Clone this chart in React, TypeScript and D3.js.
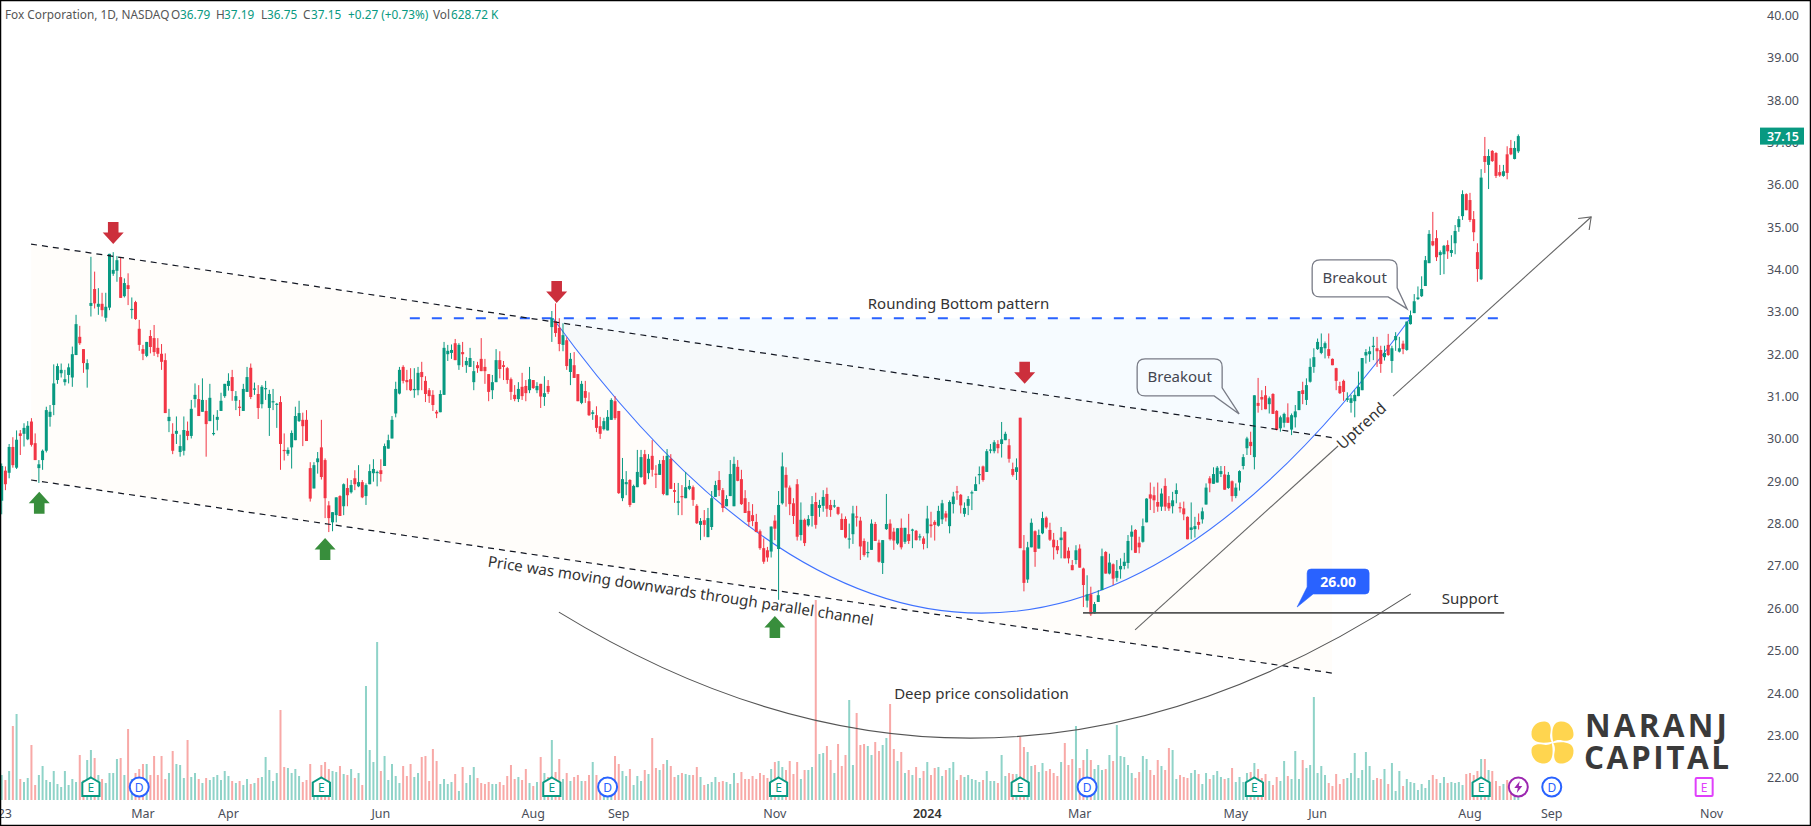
import * as d3 from 'd3';

type Ohlc = [number, number, number, number];

// daily candles [open, high, low, close], split by the axis months
const candlesJanFeb23: Ohlc[] = [
  [28.54,29.42,28.22,29.36],[29.25,29.35,28.79,28.93],[29.2,29.88,29.07,29.81],[29.81,30.04,29.32,29.38],[29.32,30.2,29.29,29.98],[30.13,30.21,29.62,30.07],[30.12,30.37,29.82,30.26],[29.99,30.42,29.97,30.31],[30.41,30.49,29.82,29.86],[29.9,30.13,29.5,29.5],
  [29.31,29.5,28.96,29.4],[29.5,29.75,29.27,29.72],[29.72,30.76,29.68,30.68],[30.52,30.8,30.29,30.64],[30.8,31.76,30.56,31.31],[31.39,31.78,31.3,31.72],[31.55,31.78,31.45,31.63],[31.34,31.63,31.26,31.41],[31.51,31.78,31.31,31.69],[31.45,32.18,31.23,32.0],
  [31.98,32.93,31.98,32.71],[32.41,32.67,32.22,32.26],[32.12,32.12,31.56,31.79],[31.64,31.88,31.21,31.79],[33.14,34.3,32.89,33.21],[33.54,33.95,33.08,33.2],[33.12,33.56,32.93,33.19],[33.19,33.45,32.89,33.04],[32.86,33.45,32.77,33.12],[33.1,34.37,33.04,34.37],
  [33.9,34.41,33.85,33.99],[33.97,34.32,33.71,34.22],[33.82,34.28,33.33,33.33],[33.37,33.79,33.34,33.68],[33.63,33.91,33.16,33.54],[33.05,33.34,32.84,33.07],[33.23,33.26,32.81,32.83],[32.6,32.81,32.08,32.22],
];
const candlesMar23: Ohlc[] = [
  [32.12,32.22,31.86,32.01],[31.96,32.29,31.93,32.29],[32.43,32.57,32.02,32.17],[32.38,32.69,31.96,32.05],[32.15,32.38,31.93,32.01],[32.01,32.24,31.63,31.82],[31.86,32.02,30.61,30.61],[30.42,30.71,30.16,30.52],[30.12,30.37,29.64,29.72],[30.12,30.53,29.88,30.19],
  [29.69,30.1,29.58,29.83],[29.72,30.53,29.61,30.21],[30.19,30.41,29.97,30.07],[30.07,30.92,30.01,30.71],[30.94,31.31,30.74,31.04],[30.94,31.27,30.54,30.54],[30.64,31.43,30.64,30.92],[30.66,30.92,29.58,30.35],[30.42,31.3,30.42,30.97],[30.12,30.57,30.08,30.14],
  [30.45,30.68,30.2,30.52],[30.66,31.09,30.66,30.9],[31.01,31.3,30.97,31.3],
];
const candlesAprMay23: Ohlc[] = [
  [31.25,31.55,31.14,31.37],[31.46,31.63,30.9,31.13],[30.9,31.13,30.68,31.01],[30.76,30.92,30.54,30.74],[30.66,31.3,30.66,31.18],[31.11,31.7,31.11,31.46],[31.68,31.78,30.94,30.99],[31.17,31.33,31.04,31.19],[31.06,31.27,30.47,30.73],[30.82,31.27,30.72,31.23],
  [31.18,31.37,30.92,31.2],[30.73,31.16,30.07,31.06],[30.87,31.18,30.68,30.89],[30.81,30.85,30.26,30.83],[30.87,31.01,29.27,29.88],[29.74,30.13,29.49,29.72],[29.65,29.8,29.6,29.74],[29.8,30.2,29.3,30.14],[29.97,30.76,29.97,30.54],[30.42,30.9,30.4,30.61],
  [30.45,30.62,29.83,30.3],[30.45,30.68,29.95,29.95],[29.31,29.45,28.52,28.59],[28.83,29.45,28.83,29.38],[29.45,29.69,29.18,29.54],[29.8,30.45,29.04,29.1],[29.5,29.54,28.13,28.6],[28.43,28.53,27.8,28.13],[28.03,28.27,27.82,28.27],[28.2,28.62,28.03,28.62],
  [28.65,28.67,28.18,28.18],[28.41,28.95,28.2,28.93],[28.84,29.07,28.41,28.67],[28.74,29.03,28.71,28.91],[29.07,29.26,28.79,28.93],[28.88,29.38,28.86,28.98],[28.98,29.03,28.6,28.62],[28.65,28.95,28.44,28.91],[28.93,29.4,28.93,29.24],[29.19,29.52,28.99,29.29],
  [29.2,29.25,28.88,29.22],
];
const candlesJunJul23: Ohlc[] = [
  [29.26,29.52,28.99,29.17],[29.36,29.89,29.36,29.83],[29.77,30.1,29.77,29.97],[30.01,30.54,30.01,30.45],[30.6,31.35,30.51,31.18],[31.07,31.7,31.05,31.63],[31.7,31.74,31.31,31.37],[31.39,31.63,31.15,31.34],[31.41,31.67,31.13,31.15],[31.15,31.67,30.97,31.18],
  [31.15,31.7,31.03,31.56],[31.58,31.82,31.15,31.46],[31.37,31.48,30.87,31.06],[31.15,31.2,30.85,31.01],[31.04,31.15,30.66,30.8],[30.64,30.68,30.49,30.6],[30.63,31.15,30.63,31.06],[31.04,32.29,31.04,32.15],[32.0,32.22,31.84,32.08],[32.03,32.23,31.89,32.1],
  [32.26,32.36,31.86,31.86],[31.74,32.26,31.63,32.22],[32.05,32.29,31.7,32.0],[31.74,31.93,31.56,31.84],[31.7,32.15,31.7,31.91],[31.34,31.84,31.15,31.6],[31.74,31.82,31.56,31.67],[31.89,32.38,31.6,31.6],[31.7,31.89,31.3,31.6],[31.53,31.53,30.89,31.11],
  [31.15,31.51,30.94,31.34],[31.34,32.12,31.34,31.86],[31.86,32.07,31.43,31.65],[31.74,31.84,31.39,31.7],[31.67,31.7,31.3,31.39],[31.41,31.45,30.92,31.11],[31.04,31.27,30.89,30.94],[30.94,31.34,30.87,31.18],[31.23,31.56,30.92,31.01],[31.25,31.39,30.89,31.08],
  [31.15,31.7,31.08,31.41],
];
const candlesAug23: Ohlc[] = [
  [31.39,31.39,31.18,31.2],[31.15,31.34,31.08,31.25],[31.3,31.3,30.73,31.0],[30.99,31.48,30.78,31.08],[31.25,31.39,31.06,31.11],[32.64,33.02,32.29,32.85],[32.78,33.2,32.41,32.5],[32.62,32.85,32.07,32.24],[32.22,32.73,32.07,32.45],[32.33,32.4,31.63,31.72],
  [31.58,32.03,31.27,31.89],[31.74,32.05,31.44,31.44],[31.53,31.53,30.89,30.89],[30.85,31.37,30.82,31.3],[31.13,31.37,30.85,30.97],[30.89,31.1,30.54,30.56],[30.59,30.68,30.45,30.63],[30.56,30.77,30.16,30.26],[30.3,30.52,30.0,30.12],[30.23,30.5,30.2,30.42],
  [30.2,30.68,30.2,30.52],[30.45,30.96,30.45,30.92],[30.89,31.01,30.45,30.49],
];
const candlesSepOct23: Ohlc[] = [
  [30.66,30.66,28.7,28.72],[28.6,29.55,28.53,29.05],[28.93,29.24,28.67,28.98],[29.03,29.05,28.39,28.44],[28.49,28.92,28.49,28.89],[28.86,29.74,28.86,29.22],[29.1,29.74,29.08,29.57],[29.64,29.74,28.91,28.93],[29.19,29.64,29.05,29.53],[29.6,29.97,29.11,29.27],
  [29.18,29.38,28.84,29.16],[29.15,29.5,29.15,29.41],[29.5,29.6,28.67,28.7],[28.67,29.76,28.67,29.6],[29.53,29.64,28.82,28.82],[28.79,28.96,28.49,28.75],[28.49,28.96,28.2,28.53],[28.65,28.91,28.2,28.63],[28.6,29.22,28.6,28.86],[28.82,29.03,28.79,28.89],
  [28.86,28.9,28.42,28.56],[28.42,28.46,27.99,28.01],[27.97,28.13,27.61,28.06],[28.08,28.32,27.69,27.97],[27.68,28.37,27.68,28.13],[27.92,28.77,27.85,28.6],[28.63,29.01,28.63,28.91],[29.03,29.24,28.65,28.79],[28.79,28.84,28.27,28.37],[28.41,28.67,28.41,28.58],
  [28.65,29.5,28.65,29.17],[28.41,29.58,28.41,29.41],[29.34,29.5,29.0,29.01],[29.05,29.27,28.44,28.46],[28.6,28.79,28.25,28.25],[28.3,28.51,27.93,28.04],[28.2,28.46,27.94,28.06],[28.04,28.23,27.8,27.8],[27.82,27.86,27.38,27.42],[27.42,27.65,27.05,27.1],
  [27.37,27.45,27.1,27.2],[27.34,27.93,27.2,27.93],
];
const candlesNovDec23: Ohlc[] = [
  [28.07,28.2,27.61,27.88],[27.4,28.77,26.2,28.44],[28.48,29.68,28.45,29.35],[29.15,29.33,28.4,28.85],[28.85,28.9,28.2,28.46],[28.48,28.6,27.99,28.18],[28.93,29.05,27.6,27.69],[27.73,28.5,27.6,28.09],[28.09,28.12,27.47,27.54],[27.96,28.2,27.93,28.11],
  [28.18,28.65,27.93,28.46],[28.51,28.73,27.88,27.97],[28.37,28.56,28.16,28.44],[28.42,28.79,28.28,28.63],[28.7,28.85,28.16,28.35],[28.44,28.56,28.16,28.32],[28.41,28.56,28.37,28.43],[28.39,28.4,28.2,28.23],[28.11,28.24,27.85,27.85],[28.11,28.17,27.65,27.67],
  [27.63,28.0,27.41,27.65],[27.75,28.42,27.52,28.24],[28.17,28.42,27.93,28.15],[28.07,28.16,27.14,27.46],[27.59,27.65,27.22,27.26],[27.31,27.57,27.2,27.33],[27.38,28.1,27.38,28.0],[27.99,28.04,27.59,27.59],[27.55,27.62,27.08,27.1],[27.07,27.61,26.81,27.61],
  [27.87,28.7,27.85,27.99],[28.0,28.1,27.6,27.63],[27.81,27.9,27.38,27.6],[27.53,27.89,27.5,27.89],[27.9,28.12,27.39,27.44],[27.57,27.9,27.52,27.9],[27.75,28.23,27.52,27.59],[27.84,27.88,27.42,27.86],[27.83,27.85,27.6,27.61],[27.68,27.76,27.6,27.7],
  [27.65,27.7,27.39,27.52],
];
const candlesJanFeb24: Ohlc[] = [
  [27.77,28.42,27.42,28.12],[27.98,28.28,27.67,27.94],[28.04,28.08,27.6,27.97],[27.95,28.42,27.93,28.3],[28.1,28.56,27.99,28.48],[28.24,28.3,28.05,28.14],[27.94,28.55,27.77,28.51],[28.46,28.75,28.24,28.64],[28.76,28.89,28.56,28.74],[28.68,28.7,28.24,28.43],
  [28.23,28.5,28.16,28.37],[28.42,28.65,28.2,28.58],[28.72,28.78,28.32,28.74],[28.77,29.11,28.77,28.93],[29.15,29.35,28.93,29.17],[29.35,29.37,28.99,29.03],[29.22,29.76,29.22,29.71],[29.73,29.88,29.66,29.75],[29.71,29.97,29.66,29.92],[29.88,29.97,29.66,29.78],
  [29.88,30.4,29.56,29.99],[29.97,30.17,29.97,30.12],[29.85,30.0,29.44,29.53],[29.29,29.44,29.11,29.15],[29.22,29.54,29.03,29.33],[30.5,30.5,27.42,27.42],[27.37,27.73,26.4,26.6],[26.68,27.57,26.6,27.44],[27.44,28.12,27.44,28.02],[27.82,27.84,26.98,27.33],
  [27.41,27.86,27.41,27.73],[27.77,28.28,27.75,28.13],[28.14,28.17,27.88,27.91],[27.85,28.02,27.59,27.62],[27.62,27.78,27.15,27.44],[27.47,27.61,27.28,27.37],[27.61,27.92,27.18,27.67],[27.81,27.81,27.18,27.18],[27.36,27.44,27.06,27.18],[27.02,27.14,26.9,26.9],
  [27.14,27.49,27.04,27.37],
];
const candlesMarApr24: Ohlc[] = [
  [27.41,27.51,26.96,26.96],[26.94,26.96,26.03,26.55],[26.18,26.78,26.02,26.33],[26.33,26.51,25.82,25.86],[25.88,26.15,25.87,26.1],[26.15,26.43,26.15,26.31],[26.43,27.41,26.43,27.23],[27.33,27.35,26.82,26.82],[26.82,27.29,26.8,27.08],[27.04,27.06,26.55,26.7],
  [26.72,27.14,26.63,26.88],[26.92,27.18,26.7,27.0],[27.0,27.31,26.92,27.1],[27.07,27.73,26.94,27.59],[27.69,27.96,27.37,27.81],[27.85,27.87,27.31,27.31],[27.55,27.69,27.3,27.44],[27.57,28.12,27.55,27.94],[28.03,28.6,28.03,28.59],[28.69,28.97,28.32,28.59],
  [28.67,28.87,28.25,28.55],[28.51,28.97,28.28,28.4],[28.4,28.83,28.3,28.71],[28.89,29.07,28.3,28.4],[28.49,28.65,28.3,28.36],[28.41,28.75,28.24,28.55],[28.7,28.95,28.48,28.79],[28.39,28.5,28.26,28.36],[28.36,28.52,28.08,28.22],[28.16,28.17,27.63,27.63],
  [27.85,28.5,27.63,27.91],[27.87,28.16,27.67,27.94],[28.04,28.24,27.86,27.97],[28.1,28.38,28.0,28.29],[28.45,28.95,28.45,28.85],[29.07,29.12,28.74,28.95],[28.94,29.33,28.94,29.17],[28.97,29.36,28.97,29.32],[29.17,29.36,29.1,29.24],[29.16,29.36,28.8,28.8],
  [28.84,29.22,28.82,29.15],[29.0,29.02,28.52,28.65],
];
const candlesMay24: Ohlc[] = [
  [28.65,28.95,28.6,28.85],[28.97,29.26,28.78,29.24],[29.36,29.64,29.28,29.57],[29.78,30.05,29.62,30.01],[29.93,30.17,29.62,29.83],[29.57,31.03,29.28,31.03],[30.85,31.44,30.62,30.78],[30.99,31.15,30.68,30.93],[31.03,31.25,30.7,30.7],[30.82,31.0,30.6,30.96],
  [31.06,31.08,30.59,30.59],[30.66,30.68,30.2,30.22],[30.25,30.55,30.17,30.51],[30.38,30.62,30.27,30.59],[30.51,30.84,30.38,30.38],[30.22,30.6,30.09,30.56],[30.51,30.8,30.27,30.65],[30.68,31.13,30.68,31.13],[31.15,31.35,30.82,31.06],[30.92,31.43,30.8,31.27],
  [31.35,31.9,31.33,31.7],[31.7,32.14,31.56,31.93],
];
const candlesJunJul24: Ohlc[] = [
  [32.12,32.37,32.1,32.29],[32.03,32.49,32.0,32.17],[32.14,32.3,31.9,32.26],[32.12,32.49,31.9,31.96],[31.89,31.9,31.74,31.74],[31.67,31.68,31.15,31.37],[31.25,31.35,31.06,31.08],[31.37,31.4,30.9,31.11],[30.92,31.1,30.87,30.96],[30.85,31.04,30.62,30.96],
  [30.89,31.15,30.51,31.04],[31.01,31.59,31.01,31.23],[31.15,31.91,31.15,31.91],[31.97,32.12,31.78,32.05],[32.0,32.18,31.82,32.07],[32.18,32.41,31.86,32.2],[32.14,32.41,31.7,32.07],[32.1,32.2,31.56,31.77],[31.93,32.2,31.85,32.03],[32.22,32.48,31.96,31.98],
  [31.84,32.2,31.56,32.14],[32.33,32.52,32.08,32.43],[32.06,32.41,32.04,32.14],[32.25,32.32,32.0,32.12],[32.1,32.77,32.08,32.77],[32.71,33.03,32.7,32.92],[32.97,33.42,32.97,33.25],[33.3,33.6,33.28,33.34],[33.37,33.84,33.35,33.54],[33.61,34.32,33.61,34.22],
  [34.15,34.93,34.15,34.84],[34.67,35.36,34.55,34.57],[34.74,34.93,34.2,34.29],[34.34,34.45,33.87,34.41],[34.36,34.58,33.89,34.56],[34.58,34.69,34.25,34.43],[34.39,34.81,34.3,34.46],[34.62,35.05,34.36,34.91],[35.0,35.26,34.89,35.19],[35.26,35.87,35.17,35.78],
  [35.78,35.8,35.4,35.4],
];
const candlesAug24: Ohlc[] = [
  [35.64,35.81,35.12,35.17],[35.19,35.38,34.67,34.88],[34.41,34.62,33.71,34.01],[33.77,36.37,33.75,36.17],[36.68,37.13,36.28,36.54],[36.47,36.84,35.9,36.68],[36.8,36.82,36.54,36.56],[36.75,36.77,36.16,36.21],[36.3,36.47,36.19,36.22],[36.21,36.47,36.19,36.32],
  [36.72,36.91,36.13,36.28],[36.87,37.06,36.7,36.72],[36.61,37.03,36.6,36.87],[36.79,37.19,36.75,37.15],
];

// volume in millions, same order as the candles
const volumesJanFeb23 = [2.5,2.0,2.9,7.4,8.6,2.1,1.8,2.2,5.5,1.5,2.5,3.4,2.0,1.8,2.9,1.6,1.3,2.9,1.5,2.1,1.8,4.5,2.0,4.0,5.0,4.2,2.5,2.1,1.7,2.7,2.7,4.1,4.2,2.5,7.1,2.1,2.7,3.1];
const volumesMar23 = [3.6,3.6,2.5,4.4,2.5,4.4,2.1,2.7,4.9,3.6,3.5,2.2,6.0,2.3,2.7,2.1,1.7,2.2,2.0,2.3,2.5,2.0,2.9];
const volumesAprMay23 = [2.4,1.9,1.7,1.9,1.5,2.1,1.6,1.7,2.2,2.3,4.3,3.0,1.9,2.7,9.0,3.3,3.2,2.7,3.1,2.4,1.8,2.0,3.6,1.8,2.0,3.5,3.8,3.1,2.9,2.8,3.4,2.6,2.5,3.1,2.2,2.7,1.5,11.4,5.0,3.8,15.8];
const volumesJunJul23 = [2.9,4.4,2.0,3.6,2.4,1.7,3.4,2.4,3.6,2.3,2.7,4.3,4.4,1.9,5.1,3.9,1.6,2.1,1.6,1.8,2.6,0.9,3.3,1.7,2.5,3.3,2.2,1.7,1.6,1.8,1.6,1.6,1.8,1.5,2.4,3.5,2.1,2.3,2.0,3.1,1.7];
const volumesAug23 = [1.4,1.8,4.3,2.7,2.3,6.0,2.8,4.1,2.1,2.7,1.9,2.3,2.5,1.9,1.9,2.5,3.8,2.5,2.0,2.3,2.0,2.2,4.4];
const volumesSepOct23 = [3.6,2.9,2.4,3.1,1.5,2.4,1.9,3.0,2.6,6.2,3.2,3.0,3.6,4.0,3.4,2.3,2.5,2.7,2.6,2.5,2.5,3.3,2.3,1.5,1.6,1.8,2.3,1.8,1.9,1.8,1.6,2.7,1.7,2.8,2.1,2.1,2.4,2.1,2.7,2.5,2.2,3.1];
const volumesNovDec23 = [3.8,3.9,3.3,3.0,3.9,2.6,3.8,2.1,3.0,3.0,3.3,20.0,4.6,4.7,5.4,4.0,2.7,5.6,3.4,4.5,10.0,3.5,8.7,5.5,5.6,5.4,4.5,5.8,4.9,5.5,6.2,9.6,5.1,3.9,4.8,2.7,3.0,2.5,3.3,2.2,2.9];
const volumesJanFeb24 = [3.8,2.5,3.2,3.3,2.4,3.0,3.2,3.8,2.0,2.5,2.3,2.5,2.1,2.0,1.8,2.0,2.9,1.9,1.9,1.7,4.5,2.4,2.7,2.6,2.6,6.3,5.3,4.8,3.4,3.5,2.8,3.7,2.9,3.1,2.7,2.4,3.8,5.7,3.5,4.1,7.4];
const volumesMarApr24 = [3.2,4.0,5.1,4.0,3.1,3.5,3.0,3.1,4.5,3.9,7.5,4.4,4.3,3.5,2.7,2.2,2.8,4.4,4.1,3.0,2.5,4.0,3.4,3.0,5.2,5.0,2.1,2.5,2.3,2.2,2.7,3.0,2.6,1.6,2.7,2.1,2.5,2.9,2.3,2.1,2.2,3.2];
const volumesMay24 = [1.8,2.3,1.8,2.7,2.8,3.7,3.1,2.2,2.6,1.9,1.5,2.3,1.9,3.9,2.4,2.1,4.9,2.1,4.0,3.2,3.5,10.3];
const volumesJunJul24 = [2.7,3.4,2.5,1.7,1.4,2.6,1.6,2.1,2.2,2.7,4.7,2.2,3.0,4.8,3.4,2.0,2.2,2.1,3.1,1.6,3.7,0.9,2.9,1.4,2.1,1.8,1.7,1.0,1.6,1.2,2.0,2.5,2.1,1.7,2.3,1.7,1.8,1.7,1.8,1.5,2.6];
const volumesAug24 = [2.7,2.5,2.9,4.1,4.1,3.0,2.9,1.9,1.4,1.6,2.0,1.5,1.0,0.63];

const candles = [candlesJanFeb23, candlesMar23, candlesAprMay23, candlesJunJul23, candlesAug23, candlesSepOct23, candlesNovDec23, candlesJanFeb24, candlesMarApr24, candlesMay24, candlesJunJul24, candlesAug24].flat();
const volumes = [volumesJanFeb23, volumesMar23, volumesAprMay23, volumesJunJul23, volumesAug23, volumesSepOct23, volumesNovDec23, volumesJanFeb24, volumesMarApr24, volumesMay24, volumesJunJul24, volumesAug24].flat();

const priceTicks = [22,23,24,25,26,27,28,29,30,31,32,33,34,35,36,37,38,39,40];
const monthTicks: [number, string][] = [[38,'Mar'],[61,'Apr'],[102,'Jun'],[143,'Aug'],[166,'Sep'],[208,'Nov'],[290,'Mar'],[332,'May'],[354,'Jun'],[395,'Aug'],[417,'Sep'],[460,'Nov']];
const yearTicks: [number, string][] = [[249,'2024']];

// event markers, by bar index
const earningsBars = [24,86,148,209,274,337,398];
const dividendBars = [37,163,292,417];

// drawings, as [bar index, price]
const upperChannel: [number, number][] = [[7.9,34.6],[357.9,30.03]];
const lowerChannel: [number, number][] = [[7.9,29.03],[357.9,24.47]];
const neckline: [number, number][] = [[109.8,32.85],[402.6,32.85]];
const supportLine: [number, number][] = [[290.9,25.89],[404.2,25.89]];
const roundingArc: [number, number][] = [[148.3,32.85],[263.6,18.92],[378.9,32.85]];
const consolidationArc: [number, number][] = [[149.9,25.91],[264.5,19.75],[379.1,26.34]];
const uptrendLine: [number, number][] = [[304.9,25.49],[427.6,35.24]];
const sellArrows: [number, number][] = [[30,34.6],[149.3,33.21],[275.2,31.3]];
const buyArrows: [number, number][] = [[10.1,28.75],[87,27.66],[208,25.82]];

const WIDTH = 1811;
const HEIGHT = 826;
const GREEN = '#089981';
const RED = '#F23645';
const FONT = '"Noto Sans", sans-serif';

const x = d3.scaleLinear().domain([0, 408]).range([1.7, 1518.3]);
const y = d3.scaleLinear().domain([22, 40]).range([777.7, 15.4]);
const volumeY = d3.scaleLinear().domain([0, 20]).range([800, 600]);

const seg = (pts: [number, number][]) => d3.line<[number, number]>().x((d) => x(d[0])).y((d) => y(d[1]))(pts) ?? '';

function arcPath(a: [number, number][]) {
  const p = d3.path();
  p.moveTo(x(a[0][0]), y(a[0][1]));
  p.quadraticCurveTo(x(a[1][0]), y(a[1][1]), x(a[2][0]), y(a[2][1]));
  return p.toString();
}

function channelArea() {
  return `${seg(upperChannel)}L${x(lowerChannel[1][0])},${y(lowerChannel[1][1])}L${x(lowerChannel[0][0])},${y(lowerChannel[0][1])}Z`;
}

// big block arrow, tip at 0,0 and dir -1 when it points down
function BlockArrow({ at, dir, color }: { at: [number, number]; dir: number; color: string }) {
  const d = dir < 0
    ? 'M0,0L-10.5,-11.5L-5.3,-11.5L-5.3,-22L5.3,-22L5.3,-11.5L10.5,-11.5Z'
    : 'M0,0L-10.5,11.5L-5.3,11.5L-5.3,22L5.3,22L5.3,11.5L10.5,11.5Z';
  return <path transform={`translate(${x(at[0])},${y(at[1])})`} d={d} fill={color} />;
}

function Callout({ tip, left, right, top, bottom, baseA, baseB }: { tip: [number, number]; left: number; right: number; top: number; bottom: number; baseA: number; baseB: number }) {
  const r = 8;
  const d = `M${left + r},${top}L${right - r},${top}Q${right},${top} ${right},${top + r}L${right},${baseB}L0,0L${baseA},${bottom}L${left + r},${bottom}Q${left},${bottom} ${left},${bottom - r}L${left},${top + r}Q${left},${top} ${left + r},${top}Z`;
  return (
    <g transform={`translate(${x(tip[0])},${y(tip[1])})`}>
      <path d={d} fill="none" stroke="#787B86" strokeWidth={1.3} />
      <text x={(left + right) / 2} y={(top + bottom) / 2 + 5} textAnchor="middle" fontSize={15} fill="#434651">Breakout</text>
    </g>
  );
}

function EarningsFlag({ bar, color }: { bar: number; color: string }) {
  return (
    <g transform={`translate(${x(bar)},787)`}>
      <path d="M0,-9.5L8.6,-4.5L8.6,9L-8.6,9L-8.6,-4.5Z" fill="#fff" stroke={color} strokeWidth={2} />
      <text y={4.5} textAnchor="middle" fontSize={12} fill={color}>E</text>
    </g>
  );
}

function DividendMark({ bar }: { bar: number }) {
  return (
    <g transform={`translate(${x(bar)},787)`}>
      <circle r={9.5} fill="#fff" stroke="#2962FF" strokeWidth={2} />
      <text y={4.5} textAnchor="middle" fontSize={12} fill="#2962FF">D</text>
    </g>
  );
}

function Logo() {
  return (
    <g transform="translate(1552.5,742.5)" fill="#FFD54F">
      {[0, 90, 180, 270].map((a) => (
        <path key={a} transform={`rotate(${a})`} d="M0.8,-0.8C-1,-9 -1,-20.5 8,-21C17,-21.5 21.5,-14 21,-7.5C20.5,-2 14.5,-1 10,-2C6,-3 3,-2.2 0.8,-0.8Z" />
      ))}
    </g>
  );
}

export default function App() {
  const k = 0.906;
  const gapStart = x(uptrendLine[0][0]) + 203;
  const gapEnd = gapStart + 55;
  const upA: [number, number] = [x(uptrendLine[0][0]), y(uptrendLine[0][1])];
  const upB: [number, number] = [x(uptrendLine[1][0]), y(uptrendLine[1][1])];

  return (
    <svg width={WIDTH} height={HEIGHT} viewBox={`0 0 ${WIDTH} ${HEIGHT}`} style={{ position: 'absolute', left: 0, top: 0, background: '#fff' }} fontFamily={FONT}>
      {/* pattern fills */}
      <path d={channelArea()} fill="#FF9800" fillOpacity={0.02} />
      <path d={`${arcPath(roundingArc)}Z`} fill="#2196F3" fillOpacity={0.04} />

      {/* volume */}
      {volumes.map((v, i) => (
        <rect key={i} x={x(i) - 1} y={volumeY(v)} width={2} height={volumeY(0) - volumeY(v)}
          fill={candles[i][3] >= candles[i][0] ? '#8FD3C8' : '#F8A9A7'} />
      ))}

      {/* drawings under the candles */}
      <path d={arcPath(roundingArc)} fill="none" stroke="#2962FF" strokeOpacity={0.9} strokeWidth={1.1} />
      <path d={seg(neckline)} stroke="#2962FF" strokeWidth={2} strokeDasharray="10 12" fill="none" />

      {/* candles */}
      {candles.map(([o, h, l, c], i) => {
        const col = c >= o ? GREEN : RED;
        const top = y(Math.max(o, c));
        const bodyH = Math.max(1.2, Math.abs(y(o) - y(c)));
        return (
          <g key={i} fill={col}>
            <rect x={x(i) - 0.5} y={y(h)} width={1} height={y(l) - y(h)} />
            <rect x={x(i) - 1.5} y={top} width={3} height={bodyH} />
          </g>
        );
      })}

      {/* channel and other drawings */}
      <path d={seg(upperChannel)} stroke="#131722" strokeWidth={1.2} strokeDasharray="6 5" fill="none" />
      <path d={seg(lowerChannel)} stroke="#131722" strokeWidth={1.2} strokeDasharray="6 5" fill="none" />
      <path d={arcPath(consolidationArc)} fill="none" stroke="#555" strokeWidth={1.1} />
      <path d={seg(supportLine)} stroke="#555" strokeWidth={1.8} fill="none" />
      <line x1={upA[0]} y1={upA[1]} x2={gapStart} y2={upA[1] - (gapStart - upA[0]) * k} stroke="#666" strokeWidth={1.1} />
      <line x1={gapEnd} y1={upA[1] - (gapEnd - upA[0]) * k} x2={upB[0]} y2={upB[1]} stroke="#666" strokeWidth={1.1} />
      <path d={`M${upB[0] - 13},${upB[1] + 1.5}L${upB[0]},${upB[1]}L${upB[0] - 2},${upB[1] + 13}`} fill="none" stroke="#666" strokeWidth={1.1} />

      {sellArrows.map((a, i) => <BlockArrow key={i} at={a} dir={-1} color="#CC2F3C" />)}
      {buyArrows.map((a, i) => <BlockArrow key={i} at={a} dir={1} color="#388E3C" />)}

      {/* labels on the chart */}
      <text x={958.5} y={309} textAnchor="middle" fontSize={15} fill="#333">Rounding Bottom pattern</text>
      <text x={981.5} y={699} textAnchor="middle" fontSize={15} fill="#333">Deep price consolidation</text>
      <text x={1470} y={604} textAnchor="middle" fontSize={15} fill="#333">Support</text>
      <text transform="translate(680,596) rotate(8.7)" textAnchor="middle" fontSize={15.2} fill="#333">Price was moving downwards through parallel channel</text>
      <text transform="translate(1365,430) rotate(-42.2)" textAnchor="middle" fontSize={15.5} fill="#333">Uptrend</text>

      <Callout tip={[332.9, 30.59]} left={-102} right={-17} top={-55} bottom={-18} baseA={-25} baseB={-26} />
      <Callout tip={[378.1, 33.07]} left={-95} right={-10} top={-49} bottom={-12} baseA={-19} baseB={-21} />

      {/* 26.00 tag */}
      <g transform={`translate(${x(348.5)},${y(26.03)})`}>
        <path d="M0,0L10,-20L10,-34Q10,-38 14,-38L68,-38Q72,-38 72,-34L72,-17Q72,-13 68,-13L16,-13Z" fill="#2962FF" stroke="#2962FF" strokeWidth={0.6} strokeLinejoin="round" />
        <text x={41} y={-20.5} textAnchor="middle" fontSize={14} fontWeight={700} fill="#fff">26.00</text>
      </g>

      {/* event markers */}
      {earningsBars.map((b) => <EarningsFlag key={b} bar={b} color={GREEN} />)}
      {dividendBars.map((b) => <DividendMark key={b} bar={b} />)}
      <g transform={`translate(${x(408)},787)`}>
        <circle r={9.5} fill="#fff" stroke="#9C27B0" strokeWidth={2} />
        <path d="M1.5,-6L-4,1L-0.5,1L-1.5,6L4,-1L0.5,-1Z" fill="#9C27B0" />
      </g>
      <g transform={`translate(${x(458)},787)`}>
        <rect x={-8.5} y={-9} width={17} height={18} rx={1} fill="#fff" stroke="#E040FB" strokeWidth={2} />
        <text y={4.5} textAnchor="middle" fontSize={12} fill="#E040FB">E</text>
      </g>

      {/* watermark */}
      <Logo />
      <text x={1585} y={737} fontSize={31.5} fontWeight={700} fontFamily='"Open Sans", sans-serif' fill="#3A3A3A" textLength={142} lengthAdjust="spacing">NARANJ</text>
      <text x={1584} y={769} fontSize={31.5} fontWeight={700} fontFamily='"Open Sans", sans-serif' fill="#3A3A3A" textLength={145} lengthAdjust="spacing">CAPITAL</text>

      {/* price axis */}
      {priceTicks.map((t) => (
        <text key={t} x={1799} y={y(t) + 4.5} textAnchor="end" fontSize={12.5} fill="#4A4E59">{d3.format('.2f')(t)}</text>
      ))}
      <rect x={1760} y={y(37.15) - 8.5} width={44} height={17} fill={GREEN} />
      <text x={1799} y={y(37.15) + 4.5} textAnchor="end" fontSize={12.5} fontWeight={600} fill="#fff">37.15</text>

      {/* time axis */}
      <text x={12} y={818} textAnchor="end" fontSize={12.5} fill="#4A4E59">2023</text>
      {monthTicks.map(([b, t], i) => (
        <text key={i} x={x(b)} y={818} textAnchor="middle" fontSize={12.5} fill="#4A4E59">{t}</text>
      ))}
      {yearTicks.map(([b, t]) => (
        <text key={t} x={x(b)} y={818} textAnchor="middle" fontSize={12.5} fontWeight={600} fill="#333">{t}</text>
      ))}

      {/* legend */}
      <g fontSize={11.8}>
        <text x={5} y={18.5} fill="#555">Fox Corporation, 1D, NASDAQ</text>
        <text x={171} y={18.5} fill="#555">O</text>
        <text x={180} y={18.5} fill={GREEN}>36.79</text>
        <text x={216} y={18.5} fill="#555">H</text>
        <text x={224} y={18.5} fill={GREEN}>37.19</text>
        <text x={261} y={18.5} fill="#555">L</text>
        <text x={267} y={18.5} fill={GREEN}>36.75</text>
        <text x={303} y={18.5} fill="#555">C</text>
        <text x={311} y={18.5} fill={GREEN}>37.15</text>
        <text x={348} y={18.5} fill={GREEN}>+0.27 (+0.73%)</text>
        <text x={433} y={18.5} fill="#555">Vol</text>
        <text x={451} y={18.5} fill={GREEN}>628.72 K</text>
      </g>

      <rect x={0} y={0} width={WIDTH} height={HEIGHT} fill="none" stroke="#000" strokeWidth={2.5} />
    </svg>
  );
}
